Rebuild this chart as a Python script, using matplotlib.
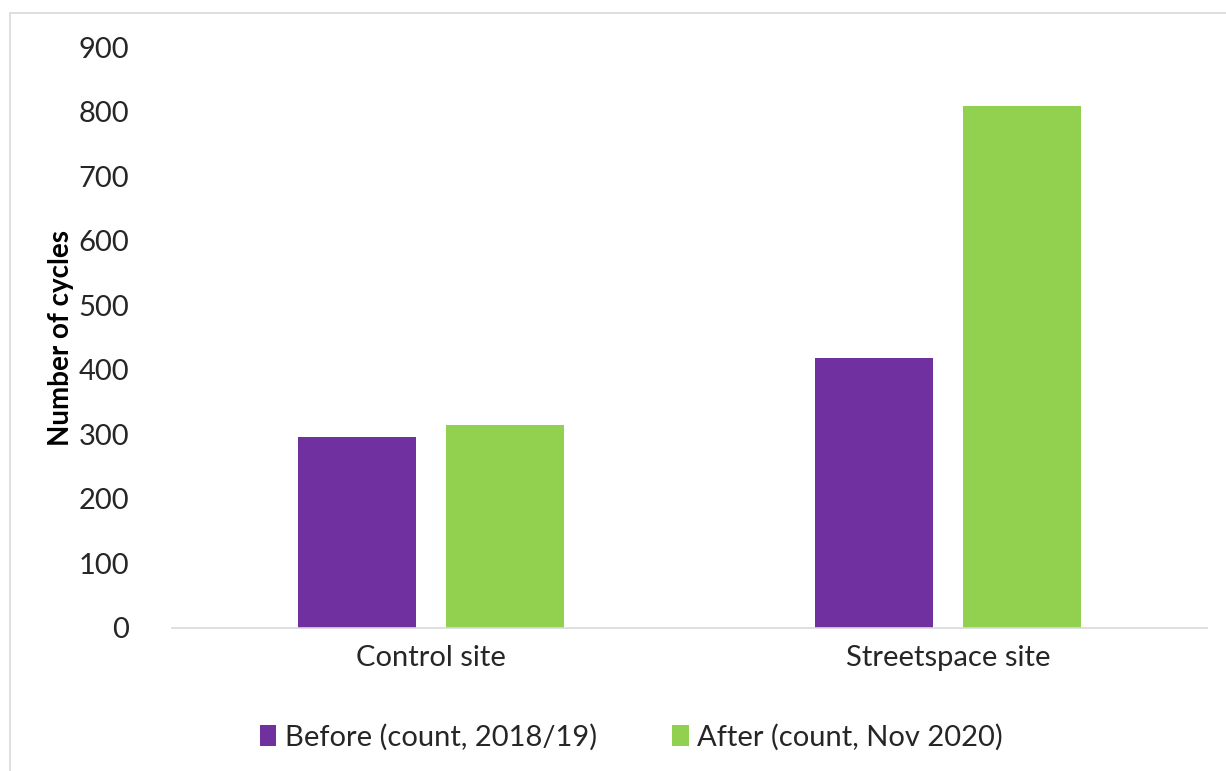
import matplotlib
matplotlib.use("Agg")
import matplotlib.pyplot as plt
from matplotlib.patches import Rectangle
import numpy as np

categories = ["Control site", "Streetspace site"]
series_names = ["Before (count, 2018/19)", "After (count, Nov 2020)"]
before = [296, 418]
after = [314, 809]
yticks = [0, 100, 200, 300, 400, 500, 600, 700, 800, 900]

plt.rcParams['font.family'] = ['Lato', 'DejaVu Sans']

fig = plt.figure(figsize=(12.26, 7.71), dpi=100)
ax = fig.add_axes([172/1226, 1 - 628/771, (1207-172)/1226, (628-47)/771])

x = np.arange(len(categories))
w = 0.228
off = 0.143
ax.bar(x - off, before, width=w, color="#7030A0", label=series_names[0])
ax.bar(x + off, after, width=w, color="#92D050", label=series_names[1])

ax.set_xlim(-0.5, 1.5)
ax.set_ylim(0, 900)
ax.set_yticks(yticks)
ax.set_yticklabels([str(t) for t in yticks], fontsize=21, color="#262626")
ax.set_xticks(x)
ax.set_xticklabels(categories, fontsize=21, color="#262626")
ax.tick_params(axis='both', length=0)
ax.tick_params(axis='y', pad=31)
ax.tick_params(axis='x', pad=12)
for s in ['top', 'right', 'left']:
    ax.spines[s].set_visible(False)
ax.spines['bottom'].set_color("#d9d9d9")
ax.spines['bottom'].set_linewidth(1.2)

ax.set_ylabel("Number of cycles", fontsize=20, fontweight='bold', color="#000000", labelpad=3)

leg = fig.legend(loc='center', bbox_to_anchor=(0.515, 1 - 737/771), ncol=2,
                 frameon=False, fontsize=21, handlelength=0.55, handleheight=0.75,
                 handletextpad=0.3, columnspacing=2.6)
for t in leg.get_texts():
    t.set_color("#262626")

fig.patches.append(Rectangle((10/1226, -0.1), 1.2, 1 - 13/771 + 0.1, transform=fig.transFigure,
                             fill=False, edgecolor="#d9d9d9", linewidth=1.2))

fig.savefig("out.png", dpi=100, facecolor="white")
